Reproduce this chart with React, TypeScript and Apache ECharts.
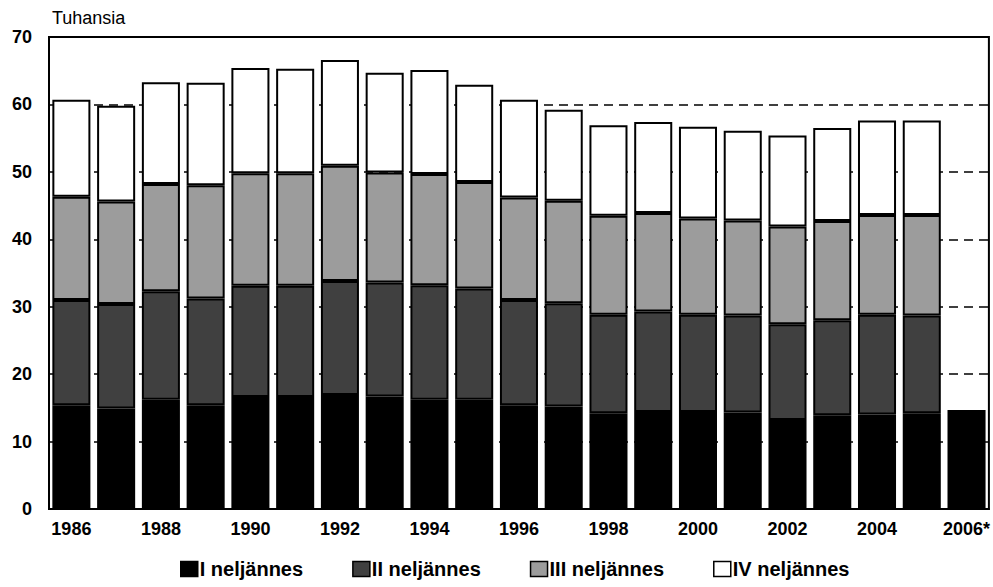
import React, { useEffect, useRef } from "react";
import * as echarts from "echarts";

const years = ["1986","1987","1988","1989","1990","1991","1992","1993","1994","1995","1996","1997","1998","1999","2000","2001","2002","2003","2004","2005","2006*"];
const q1 = [15.4,14.9,16.2,15.4,16.6,16.6,16.9,16.7,16.2,16.2,15.4,15.2,14.2,14.4,14.4,14.3,13.2,13.9,14.0,14.2,14.7];
const q2 = [15.6,15.5,16.1,15.8,16.5,16.5,16.9,16.9,17.0,16.5,15.6,15.3,14.6,14.9,14.4,14.4,14.2,14.1,14.8,14.5,null];
const q3 = [15.3,15.2,15.9,16.8,16.7,16.7,17.1,16.3,16.5,15.8,15.2,15.2,14.7,14.6,14.3,14.1,14.5,14.7,14.8,14.9,null];
const q4 = [14.4,14.2,15.1,15.2,15.6,15.5,15.7,14.8,15.4,14.4,14.5,13.5,13.4,13.5,13.6,13.3,13.5,13.8,14.0,14.0,null];
const seriesNames = ["I neljännes","II neljännes","III neljännes","IV neljännes"];
const seriesColors = ["#000000","#404040","#9c9c9c","#ffffff"];
const yTicks = { min: 0, max: 70, interval: 10 };

const FONT = "'Liberation Sans', Arial, sans-serif";

export default function App() {
  const ref = useRef<HTMLDivElement>(null);
  useEffect(() => {
    document.body.style.margin = "0";
    const chart = echarts.init(ref.current!, undefined, { renderer: "svg" });
    const data = [q1, q2, q3, q4];
    chart.setOption({
      animation: false,
      backgroundColor: "#ffffff",
      textStyle: { fontFamily: FONT },
      grid: {
        left: 49, right: 2, top: 37, bottom: 78,
        show: true, borderColor: "#000", borderWidth: 2, backgroundColor: "transparent",
      },
      graphic: [
        { type: "text", left: 52, top: 9, style: { text: "Tuhansia", font: `18px ${FONT}`, fill: "#000" } },
      ],
      legend: {
        data: seriesNames,
        bottom: 3,
        left: 175,
        icon: "rect",
        itemWidth: 17,
        itemHeight: 15,
        itemGap: 49,
        textStyle: { fontSize: 20, fontWeight: "bold", color: "#000", fontFamily: FONT, padding: [0, 0, 0, -3] },
        itemStyle: { borderColor: "#000", borderWidth: 1.5 },
      },
      xAxis: {
        type: "category",
        data: years,
        axisLine: { show: true, lineStyle: { color: "#000", width: 2 } },
        axisTick: { show: false },
        axisLabel: { interval: 1, fontSize: 18, fontWeight: "bold", color: "#000", margin: 11, fontFamily: FONT },
      },
      yAxis: {
        type: "value",
        min: yTicks.min, max: yTicks.max, interval: yTicks.interval,
        axisLine: { show: false },
        axisTick: { show: false },
        axisLabel: { fontSize: 18, fontWeight: "bold", color: "#000", margin: 17, fontFamily: FONT },
        splitLine: { show: true, lineStyle: { color: "#000", width: 1.5, type: [9, 6] } },
      },
      series: seriesNames.map((name, i) => ({
        name,
        type: "bar",
        stack: "total",
        data: data[i],
        barCategoryGap: "15%",
        itemStyle: { color: seriesColors[i], borderColor: "#000", borderWidth: 2 },
      })),
    });
    return () => chart.dispose();
  }, []);
  return <div ref={ref} style={{ position: "absolute", left: 0, top: 0, width: 993, height: 587 }} />;
}
